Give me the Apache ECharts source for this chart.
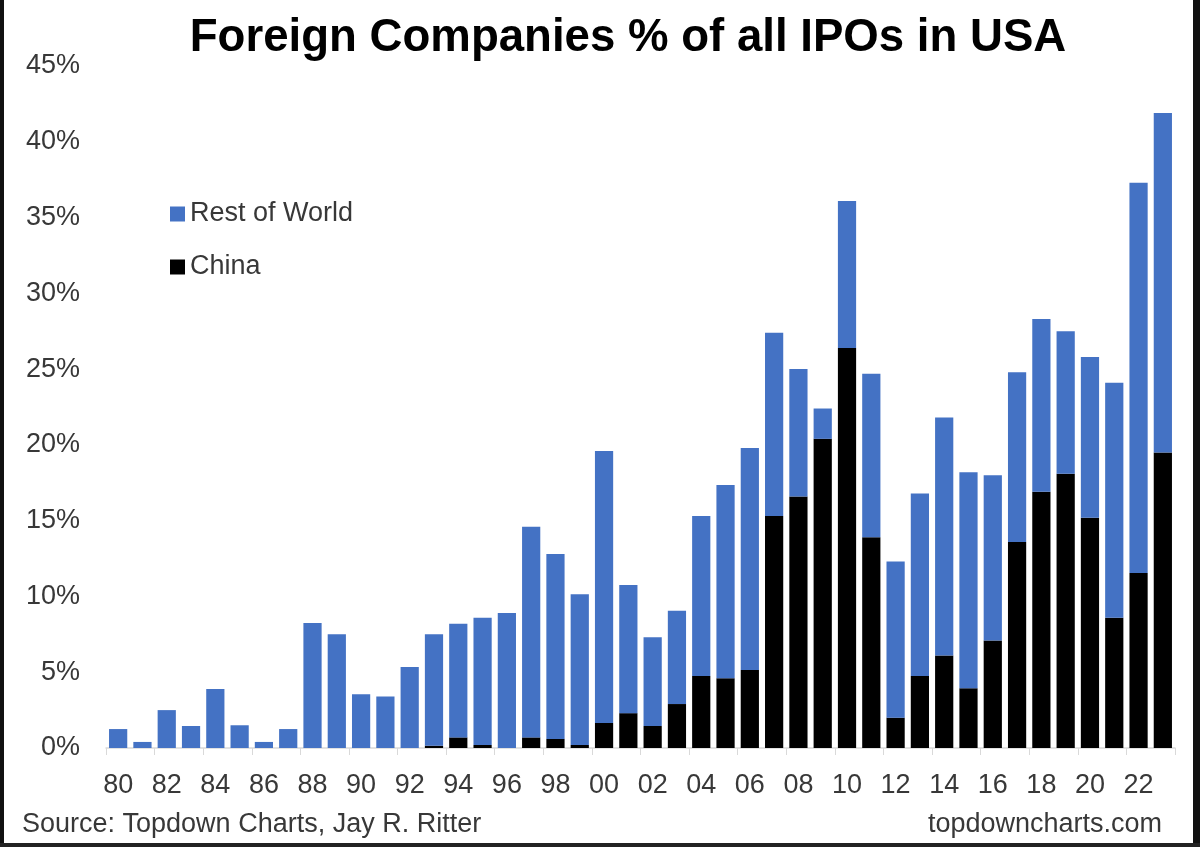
<!DOCTYPE html>
<html>
<head>
<meta charset="utf-8">
<title>Foreign Companies % of all IPOs in USA</title>
<script src="https://cdn.jsdelivr.net/npm/echarts@6/dist/echarts.min.js"></script>
<style>
  html, body { margin: 0; padding: 0; background: #fff; }
  #chart { width: 1200px; height: 847px; }
</style>
</head>
<body>
<div id="chart"></div>
<script>
// years 1980..2023, shown as two-digit labels
const years = ['80','81','82','83','84','85','86','87','88','89',
  '90','91','92','93','94','95','96','97','98','99',
  '00','01','02','03','04','05','06','07','08','09',
  '10','11','12','13','14','15','16','17','18','19',
  '20','21','22','23'];

// China share of US IPOs (%) - bottom of each stack
const china = [0, 0, 0, 0, 0, 0, 0, 0, 0, 0,
  0, 0, 0, 0.15, 0.7, 0.2, 0, 0.7, 0.6, 0.2,
  1.65, 2.3, 1.45, 2.9, 4.75, 4.6, 5.15, 15.3, 16.6, 20.4,
  26.4, 13.9, 2.0, 4.75, 6.1, 3.95, 7.1, 13.6, 16.9, 18.1,
  15.2, 8.6, 11.55, 19.5];

// rest of world share (%) - stacked on top
const restOfWorld = [1.25, 0.4, 2.5, 1.45, 3.9, 1.5, 0.4, 1.25, 8.25, 7.5,
  3.55, 3.4, 5.35, 7.35, 7.5, 8.4, 8.9, 13.9, 12.2, 9.95,
  17.95, 8.45, 5.85, 6.15, 10.55, 12.75, 14.65, 12.1, 8.4, 2.0,
  9.7, 10.8, 10.3, 12.05, 15.7, 14.25, 10.9, 11.2, 11.4, 9.4,
  10.6, 15.5, 25.75, 22.4];

const chart = echarts.init(document.getElementById('chart'));

const txt = '#383838';
const font = '"Liberation Sans", Arial, sans-serif';

const option = {
  backgroundColor: '#ffffff',
  animation: false,
  textStyle: { fontFamily: font },
  title: {
    text: 'Foreign Companies % of all IPOs in USA',
    left: 623,
    textAlign: 'center',
    top: 10,
    textStyle: { fontSize: 45.6, fontWeight: 'bold', color: '#000', fontFamily: font }
  },
  legend: {
    data: ['Rest of World', 'China'],
    orient: 'vertical',
    left: 170,
    top: 199,
    padding: 0,
    itemWidth: 15,
    itemHeight: 15,
    itemGap: 23,
    icon: 'rect',
    textStyle: { fontSize: 27, color: txt, lineHeight: 30 }
  },
  grid: {
    left: 106,
    right: 25,
    top: 66,
    bottom: 99,
    containLabel: false
  },
  xAxis: {
    type: 'category',
    data: years,
    axisLine: { lineStyle: { color: '#d9d9d9', width: 1.5 } },
    axisTick: { show: true, interval: 1, length: 7, lineStyle: { color: '#d9d9d9' } },
    axisLabel: { interval: 1, color: txt, fontSize: 27, margin: 24 }
  },
  yAxis: {
    type: 'value',
    min: 0,
    max: 45,
    interval: 5,
    splitLine: { show: false },
    axisLine: { show: false },
    axisLabel: { formatter: '{value}%', color: txt, fontSize: 27, margin: 26 }
  },
  series: [
    {
      name: 'China',
      type: 'bar',
      stack: 'ipo',
      data: china,
      barCategoryGap: '25%',
      itemStyle: { color: '#000000' }
    },
    {
      name: 'Rest of World',
      type: 'bar',
      stack: 'ipo',
      data: restOfWorld,
      barCategoryGap: '25%',
      itemStyle: { color: '#4472c4' }
    }
  ],
  graphic: [
    { type: 'text', left: 22, top: 811,
      style: { text: 'Source: Topdown Charts, Jay R. Ritter', fontSize: 27, fill: txt, fontFamily: font } },
    { type: 'text', right: 38, top: 811,
      style: { text: 'topdowncharts.com', fontSize: 27, fill: txt, fontFamily: font } },
    // dark frame edges of the original picture
    { type: 'rect', left: 0, top: 0, shape: { width: 4, height: 847 }, style: { fill: '#111' } },
    { type: 'rect', left: 1193, top: 0, shape: { width: 7, height: 847 }, style: { fill: '#111' } },
    { type: 'rect', left: 0, top: 843, shape: { width: 1200, height: 4 }, style: { fill: '#222' } }
  ]
};

chart.setOption(option);
</script>
</body>
</html>
